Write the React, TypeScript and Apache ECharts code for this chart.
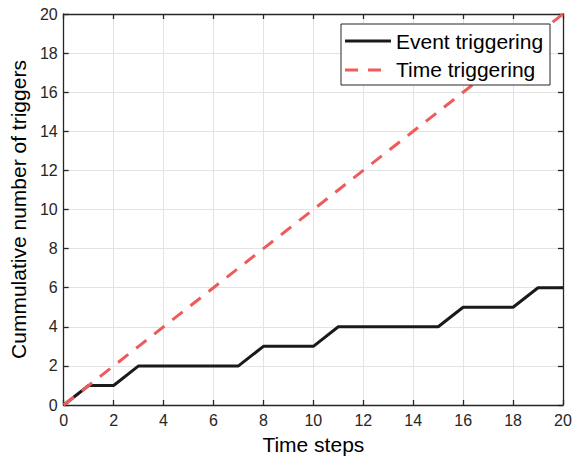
import React, { useEffect, useRef } from "react";
import * as echarts from "echarts";

const steps = [0, 1, 2, 3, 4, 5, 6, 7, 8, 9, 10, 11, 12, 13, 14, 15, 16, 17, 18, 19, 20];
const eventTriggering = [0, 1, 1, 2, 2, 2, 2, 2, 3, 3, 3, 4, 4, 4, 4, 4, 5, 5, 5, 6, 6];
const timeTriggering = [0, 1, 2, 3, 4, 5, 6, 7, 8, 9, 10, 11, 12, 13, 14, 15, 16, 17, 18, 19, 20];
const seriesNames = ["Event triggering", "Time triggering"];

const FONT = "'Liberation Sans', Arial, Helvetica, sans-serif";
const AXIS = "#262626";
const BLACK = "#1a1a1a";
const RED = "#ee5b5b";

export default function App() {
  const ref = useRef<HTMLDivElement>(null);
  useEffect(() => {
    if (!ref.current) return;
    const chart = echarts.init(ref.current, undefined, { renderer: "svg" });
    const baseAxis = {
      min: 0,
      max: 20,
      interval: 2,
      axisLine: { show: true, onZero: false, lineStyle: { color: AXIS, width: 1.3 } },
      axisTick: { show: true, inside: true, length: 5, lineStyle: { color: AXIS, width: 1.3 } },
    };
    const lx = 341;
    const ly = 24;
    chart.setOption({
      animation: false,
      backgroundColor: "#ffffff",
      textStyle: { fontFamily: FONT },
      grid: { left: 63, right: 18, top: 14, bottom: 55, containLabel: false },
      graphic: [
        {
          type: "group",
          z: 100,
          children: [
            {
              type: "rect",
              shape: { x: lx, y: ly, width: 209, height: 61 },
              style: { fill: "#ffffff", stroke: AXIS, lineWidth: 1 },
              z: 100,
            },
            {
              type: "line",
              shape: { x1: 345, y1: 41, x2: 391, y2: 41 },
              style: { stroke: BLACK, lineWidth: 3 },
              z: 101,
            },
            {
              type: "line",
              shape: { x1: 345, y1: 70, x2: 391, y2: 70 },
              style: { stroke: RED, lineWidth: 3, lineDash: [13, 10] },
              z: 101,
            },
            {
              type: "text",
              x: 396,
              y: 41,
              style: { text: seriesNames[0], font: `21px ${FONT}`, fill: "#000", verticalAlign: "middle", align: "left" },
              z: 101,
            },
            {
              type: "text",
              x: 396,
              y: 69,
              style: { text: seriesNames[1], font: `21px ${FONT}`, fill: "#000", verticalAlign: "middle", align: "left" },
              z: 101,
            },
          ],
        },
      ],
      xAxis: [
        {
          ...baseAxis,
          type: "value",
          position: "bottom",
          name: "Time steps",
          nameLocation: "middle",
          nameGap: 29,
          nameTextStyle: { fontFamily: FONT, fontSize: 21, color: "#000" },
          axisLabel: { fontFamily: FONT, fontSize: 16, color: AXIS, margin: 7 },
          splitLine: { show: true, lineStyle: { color: "#e3e3e3", width: 1 } },
        },
        {
          ...baseAxis,
          type: "value",
          position: "top",
          axisLabel: { show: false },
          splitLine: { show: false },
        },
      ],
      yAxis: [
        {
          ...baseAxis,
          type: "value",
          position: "left",
          name: "Cummulative number of triggers",
          nameLocation: "middle",
          nameGap: 30,
          nameTextStyle: { fontFamily: FONT, fontSize: 21, color: "#000" },
          axisLabel: { fontFamily: FONT, fontSize: 16, color: AXIS, margin: 6 },
          splitLine: { show: true, lineStyle: { color: "#e3e3e3", width: 1 } },
        },
        {
          ...baseAxis,
          type: "value",
          position: "right",
          axisLabel: { show: false },
          splitLine: { show: false },
        },
      ],
      series: [
        {
          name: seriesNames[0],
          type: "line",
          data: steps.map((s, i) => [s, eventTriggering[i]]),
          showSymbol: false,
          symbol: "none",
          lineStyle: { color: BLACK, width: 3 },
          itemStyle: { color: BLACK },
          z: 3,
        },
        {
          name: seriesNames[1],
          type: "line",
          data: steps.map((s, i) => [s, timeTriggering[i]]),
          showSymbol: false,
          symbol: "none",
          lineStyle: { color: RED, width: 3, type: [13, 10] },
          itemStyle: { color: RED },
          z: 4,
        },
      ],
    });
    return () => chart.dispose();
  }, []);
  return <div ref={ref} style={{ position: "absolute", left: 0, top: 0, width: 581, height: 460 }} />;
}
